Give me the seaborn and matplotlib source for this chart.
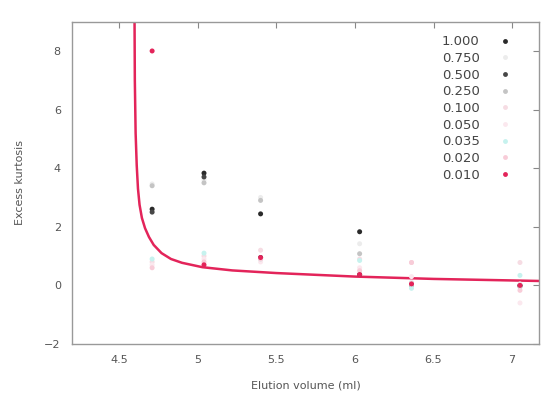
import matplotlib
matplotlib.use("Agg")
import matplotlib.pyplot as plt
import numpy as np
import pandas as pd
import seaborn as sns

# elution volumes where samples were measured
VOLUMES = [4.71, 5.04, 5.40, 6.03, 6.36, 7.05]

CONC_LABELS = ["1.000", "0.750", "0.500", "0.250", "0.100", "0.050", "0.035", "0.020", "0.010"]
K_1000 = [2.60, 3.83, 2.44, 1.83, 0.07, 0.00]
K_0750 = [3.46, 3.60, 3.00, 1.42, 0.10, 0.05]
K_0500 = [2.50, 3.70, 0.95, 0.37, 0.02, -0.02]
K_0250 = [3.40, 3.50, 2.90, 1.08, 0.00, -0.05]
K_0100 = [0.80, 1.00, 1.20, 0.90, 0.78, 0.78]
K_0050 = [0.70, 0.90, 0.80, 0.60, 0.30, -0.60]
K_0035 = [0.90, 1.10, 0.90, 0.85, -0.10, 0.34]
K_0020 = [0.60, 0.80, 0.90, 0.50, 0.78, -0.17]
K_0010 = [8.00, 0.70, 0.95, 0.37, 0.05, 0.00]

# fitted curve
FIT_X = [4.598, 4.600, 4.605, 4.612, 4.620, 4.630, 4.645, 4.665, 4.69, 4.72, 4.77,
         4.83, 4.90, 5.03, 5.22, 5.50, 6.00, 6.50, 7.17]
FIT_Y = [9.2, 7.0, 5.2, 4.1, 3.3, 2.75, 2.3, 1.95, 1.65, 1.38, 1.1,
         0.9, 0.77, 0.62, 0.51, 0.42, 0.30, 0.22, 0.15]

COLORS = {
    "1.000": "#2a2a2a",
    "0.750": "#ececec",
    "0.500": "#474747",
    "0.250": "#c4c4c4",
    "0.100": "#f6dce3",
    "0.050": "#fbe8ee",
    "0.035": "#c6f2ee",
    "0.020": "#f8ccd8",
    "0.010": "#e3245a",
}

series = [K_1000, K_0750, K_0500, K_0250, K_0100, K_0050, K_0035, K_0020, K_0010]
rows = []
for lab, vals in zip(CONC_LABELS, series):
    for v, k in zip(VOLUMES, vals):
        rows.append({"volume": v, "kurtosis": k, "conc": lab})
df = pd.DataFrame(rows)
fit = pd.DataFrame({"volume": FIT_X, "kurtosis": FIT_Y})

sns.set_style("white")
plt.rcParams["font.family"] = ["DejaVu Sans"]

fig = plt.figure(figsize=(5.41, 3.94), dpi=100)
ax = fig.add_axes([0.133, 0.127, 0.863, 0.818])

sns.lineplot(data=fit, x="volume", y="kurtosis", ax=ax, color="#e3245a",
             linewidth=1.8, sort=False, legend=False)
sns.scatterplot(data=df, x="volume", y="kurtosis", hue="conc", hue_order=CONC_LABELS,
                palette=COLORS, ax=ax, s=13, edgecolor="none", legend=False, zorder=3)

ax.set_xlim(4.2, 7.17)
ax.set_ylim(-2, 9)
ax.set_xticks([4.5, 5, 5.5, 6, 6.5, 7])
ax.set_xticklabels(["4.5", "5", "5.5", "6", "6.5", "7"])
ax.set_yticks([-2, 0, 2, 4, 6, 8])
ax.tick_params(direction="in", top=True, right=True, length=4, width=0.8,
               color="#888888", labelcolor="#555555", labelsize=8, pad=8)
for sp in ax.spines.values():
    sp.set_color("#999999")
    sp.set_linewidth(1.0)
ax.set_xlabel("Elution volume (ml)", fontsize=8, color="#555555", labelpad=11)
ax.set_ylabel("Excess kurtosis", fontsize=8, color="#555555", labelpad=14)

handles = [plt.Line2D([], [], linestyle="none", marker="o", markersize=3.5,
                      markerfacecolor=COLORS[l], markeredgecolor="none") for l in CONC_LABELS]
ax.legend(handles, CONC_LABELS, loc="upper right", bbox_to_anchor=(0.975, 0.995),
          frameon=False, markerfirst=False, fontsize=9.5, labelspacing=0.28,
          handlelength=1.5, handletextpad=1.2, labelcolor="#444444")

fig.savefig("out.png", dpi=100)
